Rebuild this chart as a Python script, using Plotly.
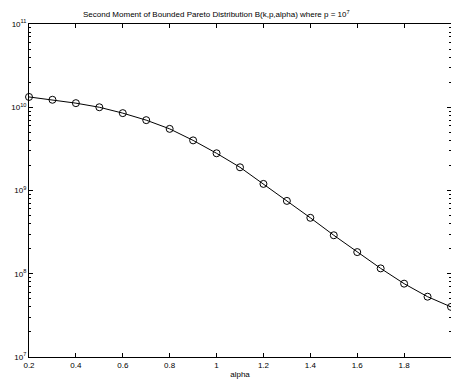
import plotly.graph_objects as go

alpha = [0.2, 0.3, 0.4, 0.5, 0.6, 0.7, 0.8, 0.9, 1.0, 1.1, 1.2, 1.3, 1.4, 1.5, 1.6, 1.7, 1.8, 1.9, 2.0]
moment = [1.33e10, 1.23e10, 1.12e10, 1.0e10, 8.5e9, 7.0e9, 5.5e9, 4.0e9, 2.8e9, 1.9e9, 1.2e9,
          7.5e8, 4.7e8, 2.9e8, 1.82e8, 1.16e8, 7.6e7, 5.3e7, 4.0e7]
xticks = [0.2, 0.4, 0.6, 0.8, 1.0, 1.2, 1.4, 1.6, 1.8, 2.0]
xticktext = ["0.2", "0.4", "0.6", "0.8", "1", "1.2", "1.4", "1.6", "1.8", "2"]
yticks = [1e7, 1e8, 1e9, 1e10, 1e11]
yticktext = ["10<sup>7</sup>", "10<sup>8</sup>", "10<sup>9</sup>", "10<sup>10</sup>", "10<sup>11</sup>"]

font = dict(family="Liberation Sans, Arial, sans-serif", size=8, color="black")

fig = go.Figure(go.Scatter(
    x=alpha, y=moment, mode="lines+markers",
    line=dict(color="black", width=1),
    marker=dict(symbol="circle-open", size=7, color="black", line=dict(width=1)),
    showlegend=False, cliponaxis=False,
))

fig.update_layout(
    width=451, height=381,
    margin=dict(l=29, r=0, t=24, b=24),
    paper_bgcolor="white", plot_bgcolor="white",
    font=font,
    annotations=[dict(
        text="Second Moment of Bounded Pareto Distribution B(k,p,alpha) where p = 10<sup>7</sup>",
        xref="paper", yref="paper", x=(216 - 29) / 422, y=1, yshift=3,
        xanchor="center", yanchor="bottom", showarrow=False, font=font,
    )],
)
fig.update_xaxes(
    range=[0.2, 2.0], tickvals=xticks, ticktext=xticktext,
    showline=True, linecolor="black", linewidth=1, mirror="ticks",
    ticks="inside", ticklen=4, tickcolor="black", showgrid=False, zeroline=False,
    title=dict(text="alpha", font=font, standoff=2),
)
fig.update_yaxes(
    type="log", range=[7, 11], tickvals=yticks, ticktext=yticktext,
    showline=True, linecolor="black", linewidth=1, mirror="ticks",
    ticks="inside", ticklen=4, tickcolor="black", showgrid=False, zeroline=False,
    minor=dict(ticks="inside", ticklen=2, tickcolor="black", dtick="D1", showgrid=False),
)

fig.write_html("out.html")
